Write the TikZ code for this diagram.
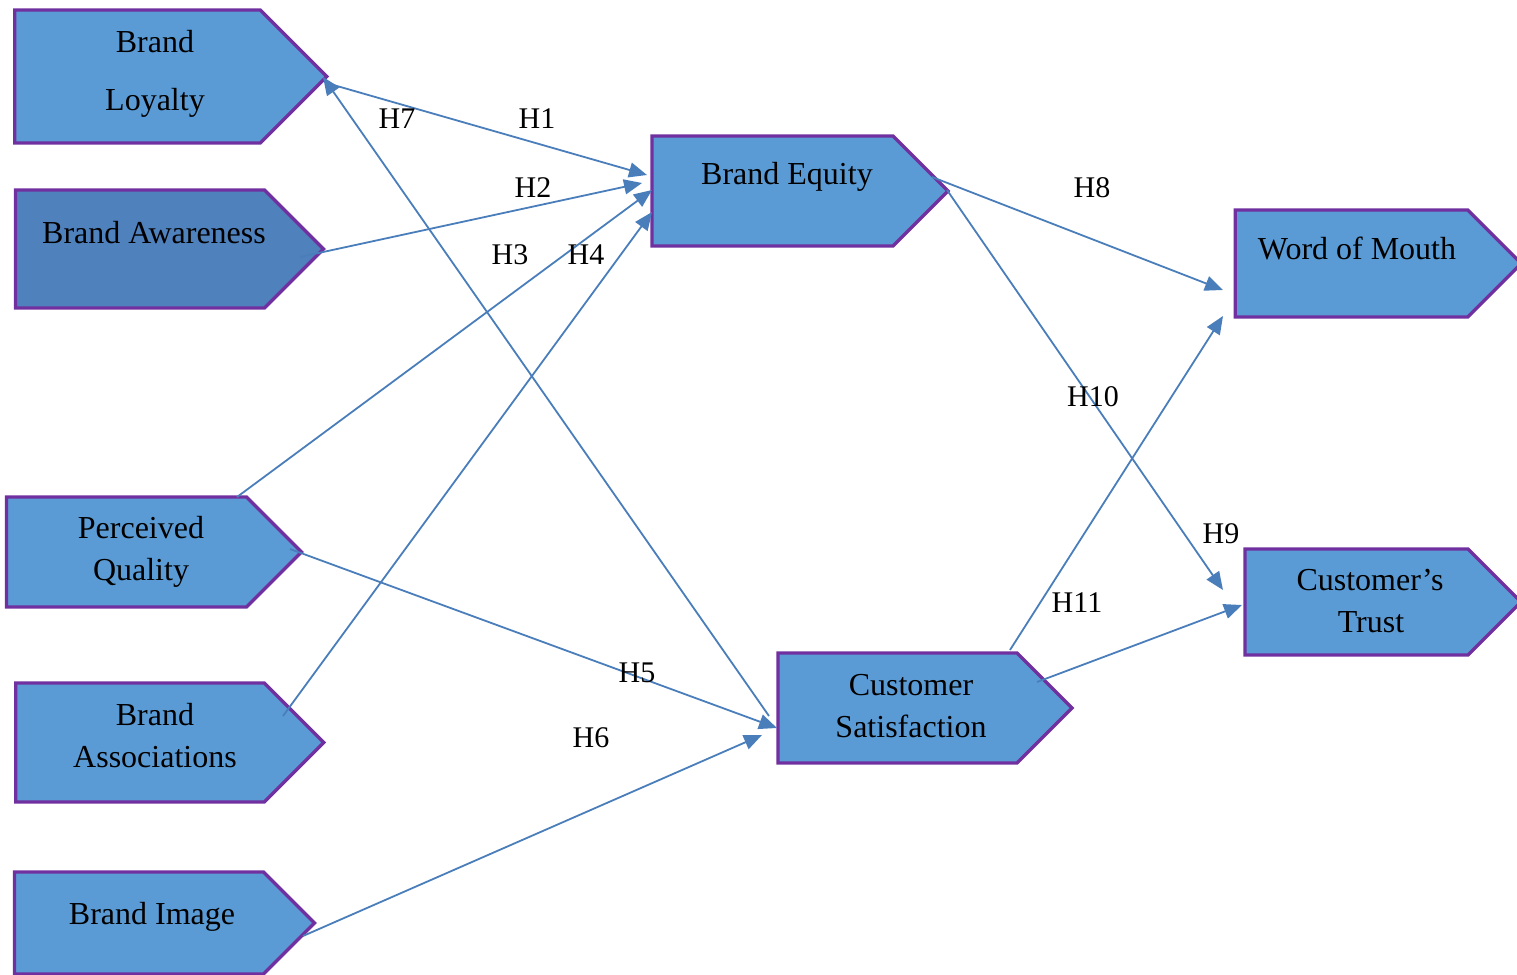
\documentclass[tikz,border=0pt]{standalone}
\usepackage{fontspec}
\setmainfont{Liberation Serif}
\usetikzlibrary{shapes.symbols,arrows.meta,calc}
\definecolor{boxfill}{HTML}{5B9BD5}
\definecolor{boxdark}{HTML}{4F81BD}
\definecolor{boxline}{HTML}{7030A0}
\definecolor{linkblue}{HTML}{4A7EBB}
\tikzset{
  box/.style={signal, signal to=east, signal pointer angle=90, draw=boxline,
    line width=1.7pt, fill=boxfill, inner sep=0pt, outer sep=0pt},
  txt/.style={font=\fontsize{16}{19}\selectfont, anchor=base, inner sep=0pt},
  hyp/.style={font=\fontsize{15}{18}\selectfont, anchor=base, inner sep=0pt},
  link/.style={draw=linkblue, line width=0.9pt, -{Triangle[length=9pt,width=7.5pt]}},
}
\begin{document}
\begin{tikzpicture}[x=0.5pt,y=-0.5pt]
\useasboundingbox (0,0) rectangle (1517,975);

% construct boxes (centre = middle of the rectangular body)
\node[box, minimum width=156pt, minimum height=66.5pt] (bl) at (137.5,76.5) {};
\node[box, fill=boxdark, minimum width=154pt, minimum height=59pt] (ba) at (140,249) {};
\node[box, minimum width=147.5pt, minimum height=55pt] (pq) at (126.5,552) {};
\node[box, minimum width=154pt, minimum height=59.5pt] (bas) at (140,742.5) {};
\node[box, minimum width=150pt, minimum height=51pt] (bi) at (139,923) {};
\node[box, minimum width=148pt, minimum height=55pt] (be) at (772.5,191) {};
\node[box, minimum width=147pt, minimum height=55pt] (cs) at (897.5,708) {};
\node[box, minimum width=143pt, minimum height=53.5pt] (wm) at (1351.5,263.5) {};
\node[box, minimum width=138pt, minimum height=53pt] (ct) at (1356.5,602) {};

% box texts
\node[txt] (t1) at (155,52) {Brand};
\node[txt] (t2) at (155,110) {Loyalty};
\node[txt] (t3) at (154,243) {Brand Awareness};
\node[txt] (t4) at (141,538) {Perceived};
\node[txt] (t5) at (141,580) {Quality};
\node[txt] (t6) at (155,725) {Brand};
\node[txt] (t7) at (155,767) {Associations};
\node[txt] (t8) at (152,924) {Brand Image};
\node[txt] (t9) at (787,184) {Brand Equity};
\node[txt] (t10) at (911,695) {Customer};
\node[txt] (t11) at (911,737) {Satisfaction};
\node[txt] (t12) at (1357,259) {Word of Mouth};
\node[txt] (t13) at (1370,590) {Customer’s};
\node[txt] (t14) at (1371,632) {Trust};

% hypotheses paths
\draw[link] ($(bl.center)+(192.5,7.5)$) -- ($(be.center)+(-125.5,-16)$);
\draw[link] ($(cs.center)+(-128.5,8)$) -- ($(bl.center)+(185.5,0.5)$);
\draw[link] ($(ba.center)+(160,8)$) -- ($(be.center)+(-130.5,-8)$);
\draw[link] ($(pq.center)+(110.5,-55)$) -- ($(be.center)+(-120.5,-1)$);
\draw[link] ($(bas.center)+(143,-26.5)$) -- ($(be.center)+(-120.5,21)$);
\draw[link] ($(pq.center)+(163.5,-3)$) -- ($(cs.center)+(-120.5,20)$);
\draw[link] ($(bi.center)+(164,13)$) -- ($(cs.center)+(-135.5,27)$);
\draw[link] ($(be.center)+(159.5,-14)$) -- ($(wm.center)+(-128.5,26.5)$);
\draw[link] ($(be.center)+(174.5,-1)$) -- ($(ct.center)+(-133.5,-12)$);
\draw[link] ($(cs.center)+(112.5,-58)$) -- ($(wm.center)+(-128.5,52.5)$);
\draw[link] ($(cs.center)+(139.5,-26)$) -- ($(ct.center)+(-114.5,3)$);

% hypothesis labels
\node[hyp] (h7) at (397,128) {H7};
\node[hyp] (h1) at (537,128) {H1};
\node[hyp] (h2) at (533,197) {H2};
\node[hyp] (h3) at (510,264) {H3};
\node[hyp] (h4) at (586,264) {H4};
\node[hyp] (h8) at (1092,197) {H8};
\node[hyp] (h10) at (1093,406) {H10};
\node[hyp] (h9) at (1221,543) {H9};
\node[hyp] (h11) at (1077,612) {H11};
\node[hyp] (h5) at (637,682) {H5};
\node[hyp] (h6) at (591,747) {H6};
\end{tikzpicture}
\end{document}
